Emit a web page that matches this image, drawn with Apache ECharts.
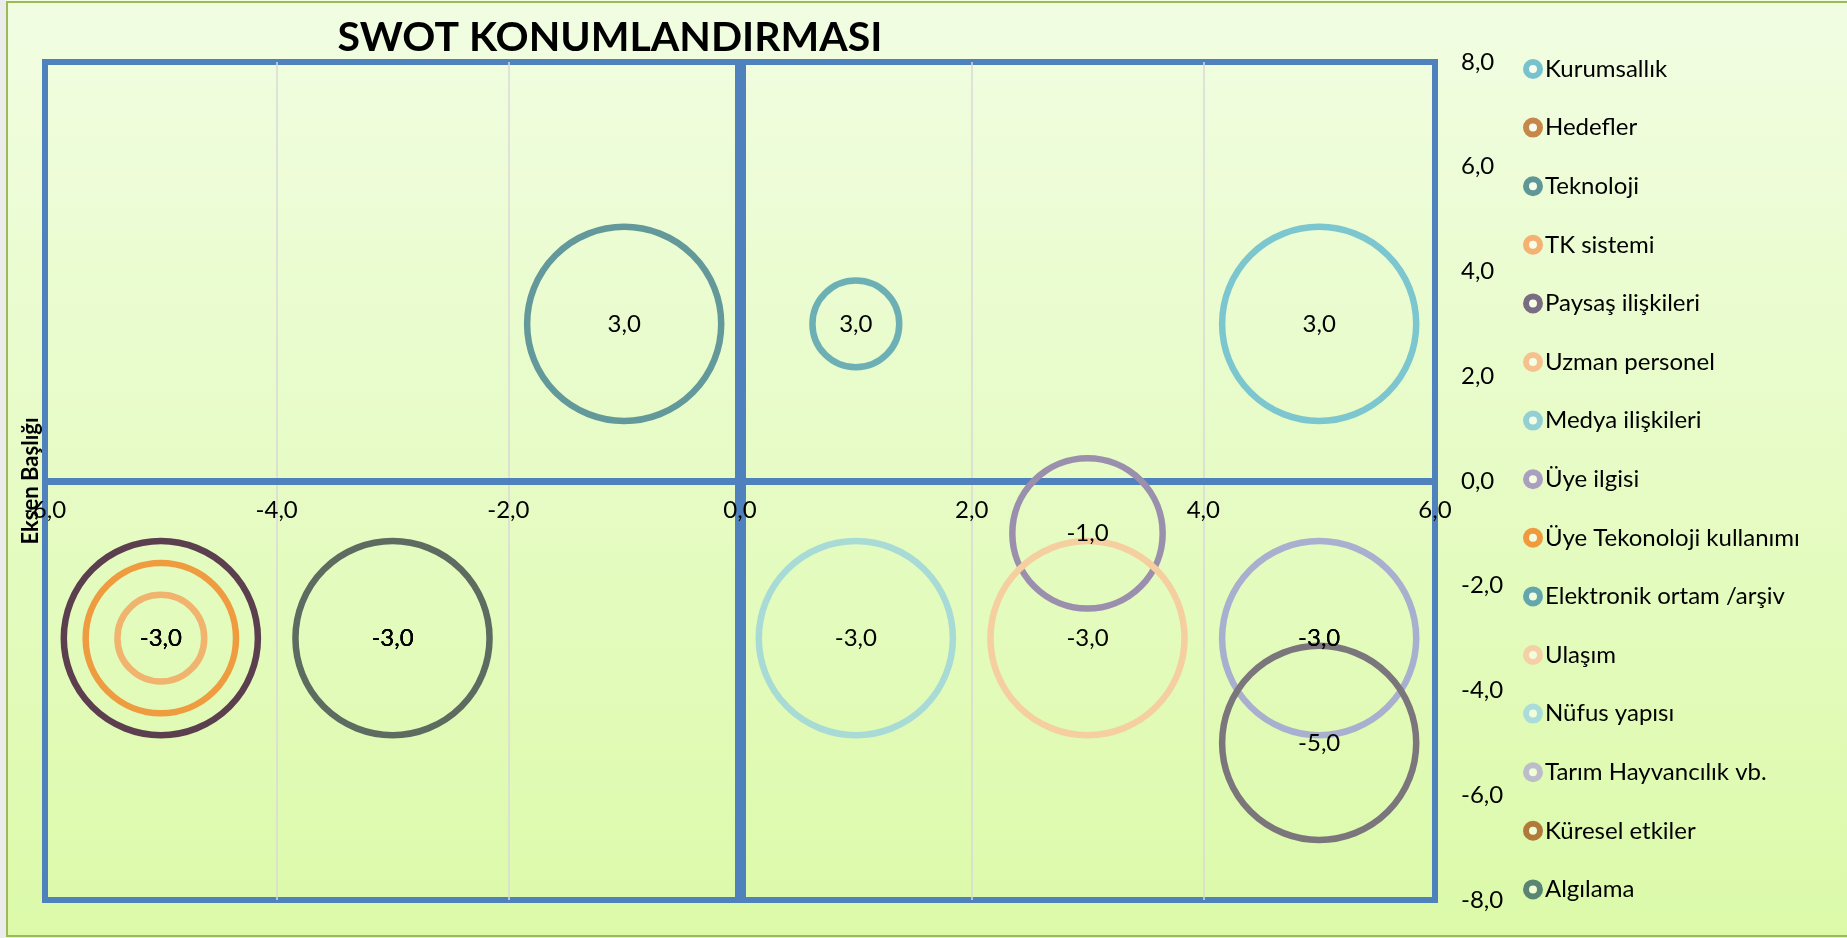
<!DOCTYPE html>
<html>
<head>
<meta charset="utf-8">
<script src="https://cdn.jsdelivr.net/npm/echarts@6/dist/echarts.min.js"></script>
<style>
  html, body { margin: 0; padding: 0; background: #ececec; }
  #chart { width: 1847px; height: 938px; }
</style>
</head>
<body>
<div id="chart"></div>
<script>
const seriesNames = ['Kurumsallık', 'Hedefler', 'Teknoloji', 'TK sistemi', 'Paysaş ilişkileri',
  'Uzman personel', 'Medya ilişkileri', 'Üye ilgisi', 'Üye Tekonoloji kullanımı',
  'Elektronik ortam /arşiv', 'Ulaşım', 'Nüfus yapısı', 'Tarım Hayvancılık vb.',
  'Küresel etkiler', 'Algılama'];
const xValues = [5, -3, -1, -5, -5, -3, 5, 3, -5, 1, 3, 1, 5, 5, -3];
const yValues = [3, -3, 3, -3, -3, -3, -3, -1, -3, 3, -3, -3, -3, -5, -3];
const bubbleSizes = [5, 5, 5, 1, 5, 5, 5, 3, 3, 1, 5, 5, 5, 5, 5];
const ringColors = ['#7cc6d0', '#c78a4c', '#63999a', '#f0b46e', '#5c3f4f',
  '#f6c290', '#93d0d6', '#9b8fae', '#ef9c40', '#6cb0b5', '#f5cfa0', '#a8dad6', '#a9b0cf',
  '#7a767b', '#5d6b60'];
const legendColors = ['#78c1ce', '#c8874a', '#5f9797', '#f4b172', '#7a6d82',
  '#f5c28e', '#93d0d6', '#ab9fc0', '#f09a3e', '#63a6ab', '#f5cfa5', '#aadcda', '#bcbcca',
  '#b07a3a', '#5a8573'];
// series whose ring sits exactly under another one
const coveredSeries = ['Hedefler', 'Uzman personel', 'Medya ilişkileri'];
const xTicks = { min: -6, max: 6, step: 2 };
const yTicks = { min: -8, max: 8, step: 2 };

const fmt = v => Number(v).toFixed(1).replace('.', ',');
const FONT = 'Lato';

const chart = echarts.init(document.getElementById('chart'));

const series = seriesNames.map((name, i) => ({
  name: name,
  type: 'scatter',
  data: [[xValues[i], yValues[i], bubbleSizes[i]]],
  symbolSize: val => 86.8 * Math.sqrt(val[2]),
  itemStyle: {
    color: 'rgba(0,0,0,0)',
    borderColor: ringColors[i],
    borderWidth: coveredSeries.includes(name) ? 4 : 6.5,
    opacity: 1
  },
  label: {
    show: true,
    position: 'inside',
    formatter: p => fmt(p.value[1]),
    color: '#000',
    fontSize: 24,
    fontFamily: FONT
  },
  emphasis: { disabled: true },
  animation: false
}));

const option = {
  backgroundColor: {
    type: 'linear', x: 0, y: 0, x2: 0, y2: 1,
    colorStops: [{ offset: 0, color: '#f1fde2' }, { offset: 1, color: '#dcfaa9' }]
  },
  textStyle: { fontFamily: FONT },
  title: {
    text: 'SWOT KONUMLANDIRMASI',
    left: 605,
    top: 12,
    textAlign: 'center',
    textStyle: { fontSize: 41, fontWeight: 'bold', color: '#000', fontFamily: FONT }
  },
  legend: {
    type: 'plain',
    orient: 'vertical',
    left: 1518,
    top: 52,
    itemGap: 34.6,
    itemWidth: 14,
    itemHeight: 14,
    icon: 'circle',
    textStyle: { fontSize: 24, color: '#000', fontFamily: FONT },
    data: seriesNames.map((n, i) => ({
      name: n,
      itemStyle: { color: 'rgba(255,255,255,0.5)', borderColor: legendColors[i], borderWidth: 6, opacity: 1 }
    }))
  },
  grid: {
    left: 45, right: 412, top: 62, bottom: 38,
    show: true, borderColor: '#4f81bd', borderWidth: 6, backgroundColor: 'transparent'
  },
  xAxis: {
    type: 'value',
    position: 'bottom',
    offset: -419,
    min: xTicks.min, max: xTicks.max, interval: xTicks.step,
    axisLine: { show: true, onZero: false, lineStyle: { color: '#4f81bd', width: 7, cap: 'butt' } },
    axisTick: { show: false },
    axisLabel: {
      formatter: fmt, fontSize: 24, color: '#000', margin: 17,
      showMinLabel: true, showMaxLabel: true
    },
    splitLine: {
      show: true, showMinLine: false, showMaxLine: false,
      lineStyle: { color: '#d9d9d9', width: 1.5 }
    }
  },
  yAxis: [{
    type: 'value',
    position: 'right',
    min: yTicks.min, max: yTicks.max, interval: yTicks.step,
    axisLine: { show: false, onZero: false },
    axisTick: { show: false },
    axisLabel: { formatter: fmt, fontSize: 24, color: '#000', margin: 26 },
    splitLine: { show: false }
  }, {
    type: 'value',
    position: 'left',
    min: yTicks.min, max: yTicks.max, interval: yTicks.step,
    axisLine: { show: true, onZero: true, lineStyle: { color: '#4f81bd', width: 11, cap: 'butt' } },
    axisTick: { show: false },
    axisLabel: { show: false },
    splitLine: { show: false }
  }],
  graphic: [{
    type: 'rect',
    shape: { x: 7, y: 2, width: 1850, height: 934 },
    style: { fill: 'none', stroke: '#9bbb59', lineWidth: 2 },
    silent: true
  }, {
    type: 'rect',
    shape: { x: 0, y: 0, width: 6, height: 938 },
    style: { fill: '#ececec' },
    silent: true
  }, {
    type: 'text',
    x: 31, y: 481,
    rotation: Math.PI / 2,
    style: {
      text: 'Eksen Başlığı',
      font: 'bold 22px Lato',
      fill: '#000',
      textAlign: 'center',
      textVerticalAlign: 'middle'
    },
    z: 100
  }],
  series: series,
  animation: false
};

chart.setOption(option);
</script>
</body>
</html>
